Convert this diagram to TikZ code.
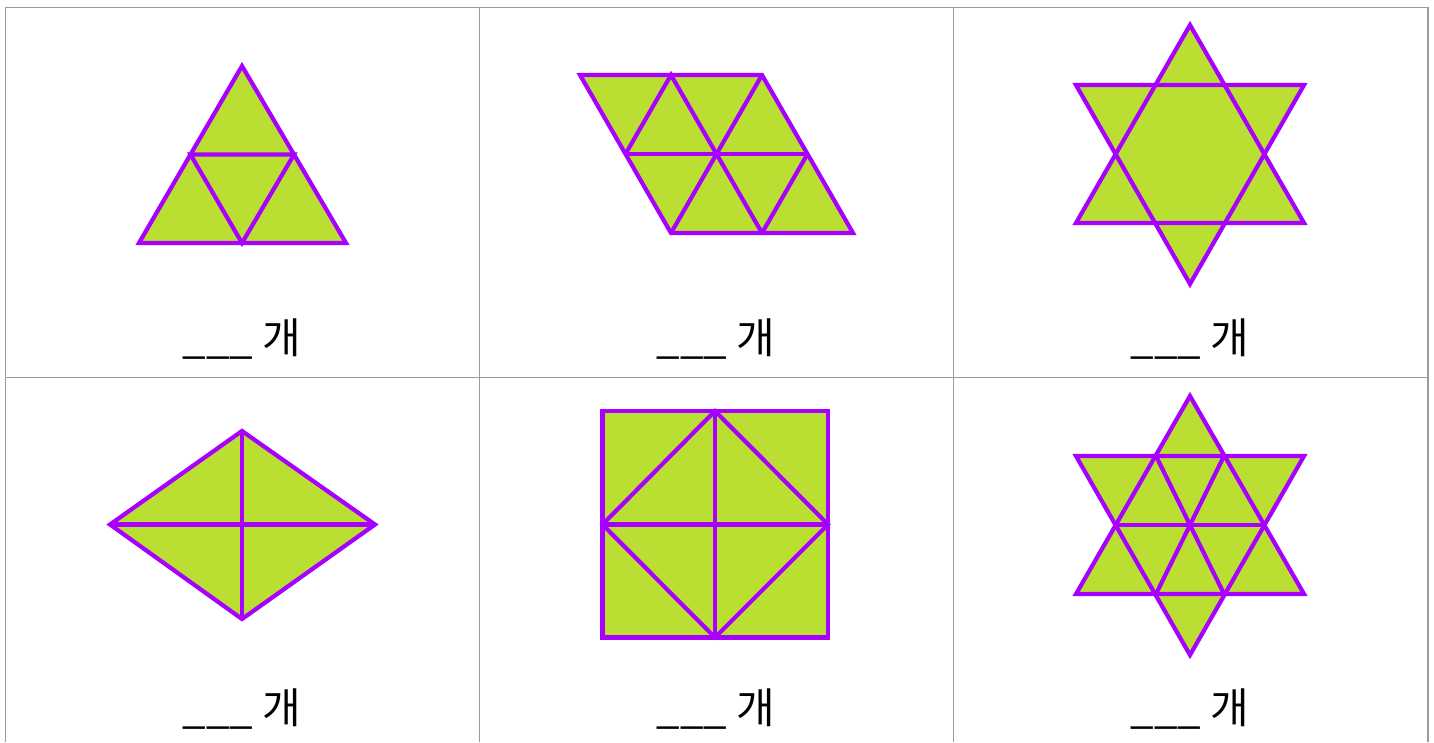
\documentclass[tikz,border=0pt]{standalone}
\usepackage{fontspec}
\newfontfamily\kr{Noto Sans CJK KR}
\definecolor{lime}{HTML}{BADF32}
\definecolor{purp}{HTML}{A800FF}
\definecolor{gridc}{HTML}{9A9A9A}
\tikzset{
  shp/.style={fill=lime,draw=purp,line width=4.2pt,line join=miter},
  edge/.style={draw=purp,line width=4.2pt},
  gridl/.style={draw=gridc,line width=1.3pt},
  lbl/.style={anchor=base,inner sep=0pt,font=\kr\fontsize{42}{48}\selectfont}
}
\begin{document}
\begin{tikzpicture}[x=1pt,y=-1pt]
\useasboundingbox (0,0) rectangle (1434,742);
% grid
\draw[gridl] (5.5,742) -- (5.5,7.5) -- (1428,7.5) -- (1428,742);
\draw[gridl] (479.5,7.5) -- (479.5,742);
\draw[gridl] (953.5,7.5) -- (953.5,742);
\draw[gridl] (5.5,377.5) -- (1428,377.5);
% cell 1: triangle
\coordinate (a1) at (242,66);
\coordinate (a2) at (139,243);
\coordinate (a3) at (346,243);
\coordinate (m1) at (190.5,154.5);
\coordinate (m2) at (294,154.5);
\coordinate (m3) at (242,243);
\draw[shp] (a1) -- (a2) -- (a3) -- cycle;
\draw[edge] (m1) -- (m2) -- (m3) -- cycle;
% cell 2: parallelogram
\coordinate (p1) at (580,75);
\coordinate (p2) at (671,75);
\coordinate (p3) at (762,75);
\coordinate (q1) at (625.5,154);
\coordinate (q2) at (716.5,154);
\coordinate (q3) at (807.5,154);
\coordinate (r1) at (671,233);
\coordinate (r2) at (762,233);
\coordinate (r3) at (853,233);
\draw[shp] (p1) -- (p3) -- (r3) -- (r1) -- cycle;
\draw[edge] (q1) -- (q3);
\draw[edge] (q1) -- (p2) -- (r2);
\draw[edge] (r1) -- (p3);
\draw[edge] (q3) -- (r2);
% cell 3: star
\coordinate (s1) at (1190,25);
\coordinate (s2) at (1076,223);
\coordinate (s3) at (1304,223);
\coordinate (t1) at (1190,284);
\coordinate (t2) at (1076,85);
\coordinate (t3) at (1304,85);
\fill[lime] (s1) -- (s2) -- (s3) -- cycle;
\fill[lime] (t1) -- (t2) -- (t3) -- cycle;
\draw[edge,line join=miter] (s1) -- (s2) -- (s3) -- cycle;
\draw[edge,line join=miter] (t1) -- (t2) -- (t3) -- cycle;
% cell 4: rhombus
\coordinate (d1) at (242,431);
\coordinate (d2) at (375,524.5);
\coordinate (d3) at (242,619);
\coordinate (d4) at (110,524.5);
\draw[shp] (d1) -- (d2) -- (d3) -- (d4) -- cycle;
\draw[edge] (d1) -- (d3);
\draw[edge] (d4) -- (d2);
% cell 5: square
\coordinate (e1) at (602.5,411);
\coordinate (e2) at (828,411);
\coordinate (e3) at (828,637.5);
\coordinate (e4) at (602.5,637.5);
\coordinate (f1) at (715,411);
\coordinate (f2) at (828,524.5);
\coordinate (f3) at (715,637.5);
\coordinate (f4) at (602.5,524.5);
\draw[shp] (e1) -- (e2) -- (e3) -- (e4) -- cycle;
\draw[edge] (f1) -- (f2) -- (f3) -- (f4) -- cycle;
\draw[edge] (f1) -- (f3);
\draw[edge] (f4) -- (f2);
% cell 6: subdivided star
\coordinate (u1) at (1190,396);
\coordinate (u2) at (1076,594);
\coordinate (u3) at (1304,594);
\coordinate (v1) at (1190,655);
\coordinate (v2) at (1076,456);
\coordinate (v3) at (1304,456);
\coordinate (h1) at (1156,456);
\coordinate (h2) at (1224,456);
\coordinate (h3) at (1264,525);
\coordinate (h4) at (1224,594);
\coordinate (h5) at (1156,594);
\coordinate (h6) at (1116,525);
\fill[lime] (u1) -- (u2) -- (u3) -- cycle;
\fill[lime] (v1) -- (v2) -- (v3) -- cycle;
\draw[edge,line join=miter] (u1) -- (u2) -- (u3) -- cycle;
\draw[edge,line join=miter] (v1) -- (v2) -- (v3) -- cycle;
\draw[edge] (h1) -- (h4);
\draw[edge] (h2) -- (h5);
\draw[edge] (h6) -- (h3);
% labels
\node[lbl] (l1) at (242,353) {\_\_\_ 개};
\node[lbl] (l2) at (716,353) {\_\_\_ 개};
\node[lbl] (l3) at (1190,353) {\_\_\_ 개};
\node[lbl] (l4) at (242,723) {\_\_\_ 개};
\node[lbl] (l5) at (716,723) {\_\_\_ 개};
\node[lbl] (l6) at (1190,723) {\_\_\_ 개};
\end{tikzpicture}
\end{document}
